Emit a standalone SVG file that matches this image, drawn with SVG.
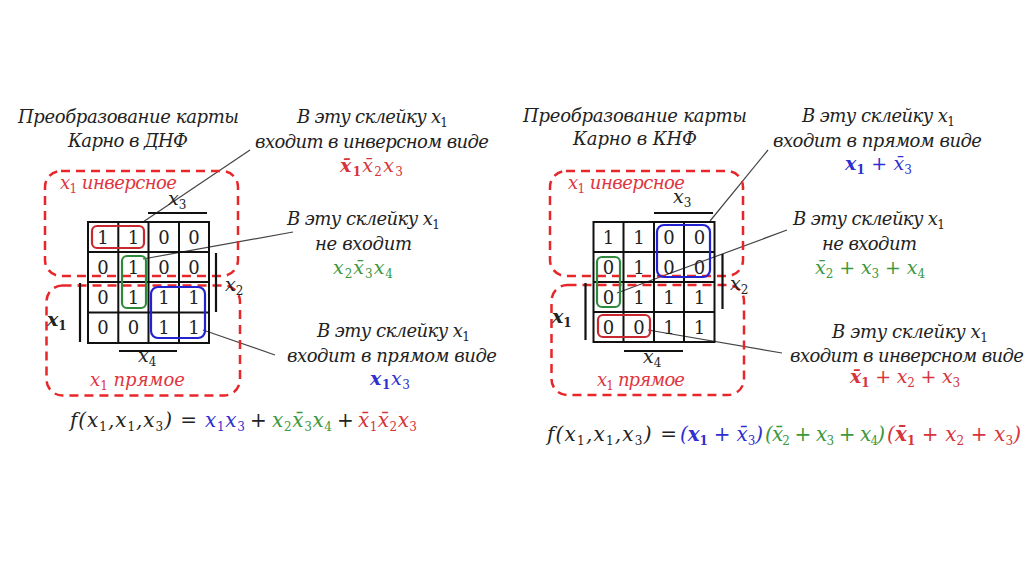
<svg xmlns="http://www.w3.org/2000/svg" width="1024" height="574" viewBox="0 0 1024 574">
<style>
.t{font-family:"DejaVu Serif","Liberation Serif",serif;font-style:italic;font-size:18px;fill:#222}
.m{font-family:"DejaVu Serif","Liberation Serif",serif;font-style:italic;font-size:19px;fill:#222}
.f{font-family:"DejaVu Serif","Liberation Serif",serif;font-style:italic;font-size:20px;fill:#222}
.s{font-size:12px;font-style:normal}
.b{font-weight:bold}
.num{font-family:"DejaVu Serif","Liberation Serif",serif;font-size:18px;fill:#222;text-anchor:middle}
.grid{stroke:#111;stroke-width:2;fill:none}
.bar{stroke:#111;stroke-width:2.2}
.dash{stroke:#e8262a;stroke-width:2.5;fill:none;stroke-dasharray:9 6}
.lead{stroke:#444;stroke-width:1.2}
.red{fill:#d6333a}
.blue{fill:#2f2fd0}
.green{fill:#3c983c}
.lbl{fill:#e03540}
.c{text-anchor:middle}
.br{stroke:#c8282e;stroke-width:2.2;fill:none}
.bg{stroke:#2e8b3e;stroke-width:2.2;fill:none}
.bb{stroke:#2222d0;stroke-width:2.2;fill:none}
</style>
<rect width="1024" height="574" fill="#fff"/>

<g id="connectors">
<line class="lead" x1="143" y1="222" x2="250" y2="150"/>
<line class="lead" x1="143" y1="259" x2="293" y2="232"/>
<line class="lead" x1="203" y1="330" x2="275" y2="355"/>
<line class="lead" x1="710" y1="221" x2="768" y2="150"/>
<line class="lead" x1="617" y1="293" x2="787" y2="230"/>
<line class="lead" x1="648" y1="330" x2="782" y2="353"/>
</g>

<g id="left-title">
<text class="t c" x="128.5" y="123" textLength="221" font-size="19">Преобразование карты</text>
<text class="t c" x="128" y="147" textLength="120" font-size="19">Карно в ДНФ</text>
</g>

<g id="left-map">
<rect class="dash" x="45" y="171" width="193" height="105" rx="16"/>
<rect class="dash" x="46.5" y="285.5" width="193.5" height="110" rx="16"/>
<text class="t lbl" x="60" y="189" textLength="117">x<tspan class="s" dy="4">1</tspan><tspan dy="-4"> инверсное</tspan></text>
<text class="t lbl" x="90" y="386" textLength="95">x<tspan class="s" dy="4">1</tspan><tspan dy="-4"> прямое</tspan></text>
<rect class="grid" x="88" y="222" width="121" height="121"/>
<path class="grid" d="M118.3 222V343M148.5 222V343M179 222V343M88 252H209M88 282H209M88 312.5H209"/>
<g class="num">
<text x="103" y="243.5">1</text><text x="133.5" y="243.5">1</text><text x="164" y="243.5">0</text><text x="194" y="243.5">0</text>
<text x="103" y="273.5">0</text><text x="133.5" y="273.5">1</text><text x="164" y="273.5">0</text><text x="194" y="273.5">0</text>
<text x="103" y="304">0</text><text x="133.5" y="304">1</text><text x="164" y="304">1</text><text x="194" y="304">1</text>
<text x="103" y="334">0</text><text x="133.5" y="334">0</text><text x="164" y="334">1</text><text x="194" y="334">1</text>
</g>
<rect class="br" x="92" y="226" width="52" height="22" rx="5"/>
<rect class="bg" x="122" y="256" width="24" height="52" rx="5"/>
<rect class="bb" x="151" y="287" width="54" height="51" rx="7"/>
<path class="bar" d="M148 213H207M216 253V312M80 283V342M119 351H177"/>
<text class="m" x="168" y="205">x<tspan class="s" dy="4">3</tspan></text>
<text class="m" x="225" y="291">x<tspan class="s" dy="4">2</tspan></text>
<text class="m b" x="47" y="326">x<tspan class="s" dy="4">1</tspan></text>
<text class="m" x="138" y="362">x<tspan class="s" dy="4">4</tspan></text>
</g>

<g id="left-note-1">
<text class="t c" x="372.5" y="123" textLength="151">В эту склейку x<tspan class="s" dy="4">1</tspan></text>
<text class="t c" x="372" y="148" textLength="234">входит в инверсном виде</text>
<text class="m c red" x="371.5" y="172" textLength="63"><tspan class="b">x&#772;</tspan><tspan class="s b" dy="4">1</tspan><tspan dy="-4">x&#772;</tspan><tspan class="s" dy="4">2</tspan><tspan dy="-4">x</tspan><tspan class="s" dy="4">3</tspan></text>
</g>
<g id="left-note-2">
<text class="t c" x="363.5" y="225" textLength="153">В эту склейку x<tspan class="s" dy="4">1</tspan></text>
<text class="t c" x="363.5" y="250" textLength="97">не входит</text>
<text class="m c green" x="363" y="274" textLength="60">x<tspan class="s" dy="4">2</tspan><tspan dy="-4">x&#772;</tspan><tspan class="s" dy="4">3</tspan><tspan dy="-4">x</tspan><tspan class="s" dy="4">4</tspan></text>
</g>
<g id="left-note-3">
<text class="t c" x="393.5" y="337" textLength="153">В эту склейку x<tspan class="s" dy="4">1</tspan></text>
<text class="t c" x="392" y="362" textLength="210">входит в прямом виде</text>
<text class="m c blue" x="390" y="385" textLength="40"><tspan class="b">x</tspan><tspan class="s b" dy="4">1</tspan><tspan dy="-4">x</tspan><tspan class="s" dy="4">3</tspan></text>
</g>

<g id="left-formula">
<text class="f" x="70" y="427" textLength="127">f(x<tspan class="s" dy="4">1</tspan><tspan dy="-4">,x</tspan><tspan class="s" dy="4">1</tspan><tspan dy="-4">,x</tspan><tspan class="s" dy="4">3</tspan><tspan dy="-4">) =</tspan></text>
<text class="f blue" x="205" y="427" textLength="40">x<tspan class="s" dy="4">1</tspan><tspan dy="-4">x</tspan><tspan class="s" dy="4">3</tspan></text>
<text class="f" x="250" y="427" textLength="13">+</text>
<text class="f green" x="272" y="427" textLength="60">x<tspan class="s" dy="4">2</tspan><tspan dy="-4">x&#772;</tspan><tspan class="s" dy="4">3</tspan><tspan dy="-4">x</tspan><tspan class="s" dy="4">4</tspan></text>
<text class="f" x="337" y="427" textLength="13">+</text>
<text class="f red" x="358" y="427" textLength="59">x&#772;<tspan class="s" dy="4">1</tspan><tspan dy="-4">x&#772;</tspan><tspan class="s" dy="4">2</tspan><tspan dy="-4">x</tspan><tspan class="s" dy="4">3</tspan></text>
</g>

<g id="right-title">
<text class="t c" x="635" y="122" textLength="224" font-size="19">Преобразование карты</text>
<text class="t c" x="635" y="145" textLength="124" font-size="19">Карно в КНФ</text>
</g>

<g id="right-map">
<rect class="dash" x="550" y="171" width="193" height="105" rx="16"/>
<rect class="dash" x="551.5" y="285" width="192.5" height="110" rx="16"/>
<text class="t lbl" x="568" y="189" textLength="117">x<tspan class="s" dy="4">1</tspan><tspan dy="-4"> инверсное</tspan></text>
<text class="t lbl" x="597" y="386" textLength="88">x<tspan class="s" dy="4">1</tspan><tspan dy="-4"> прямое</tspan></text>
<rect class="grid" x="593.5" y="222" width="121" height="120"/>
<path class="grid" d="M623.5 222V342M654 222V342M684 222V342M593.5 252H714.5M593.5 282H714.5M593.5 312H714.5"/>
<g class="num">
<text x="608.5" y="243.5">1</text><text x="639" y="243.5">1</text><text x="669" y="243.5">0</text><text x="699.5" y="243.5">0</text>
<text x="608.5" y="273.5">0</text><text x="639" y="273.5">1</text><text x="669" y="273.5">0</text><text x="699.5" y="273.5">0</text>
<text x="608.5" y="303.5">0</text><text x="639" y="303.5">1</text><text x="669" y="303.5">1</text><text x="699.5" y="303.5">1</text>
<text x="608.5" y="333.5">0</text><text x="639" y="333.5">0</text><text x="669" y="333.5">1</text><text x="699.5" y="333.5">1</text>
</g>
<rect class="bb" x="657" y="225" width="53" height="52" rx="7"/>
<rect class="bg" x="597" y="257" width="23" height="50" rx="5"/>
<rect class="br" x="598" y="315" width="52" height="22" rx="5"/>
<path class="bar" d="M654 213H713M722.5 254V309M585.5 283V340M624 351H683"/>
<text class="m" x="673" y="203">x<tspan class="s" dy="4">3</tspan></text>
<text class="m" x="730" y="290">x<tspan class="s" dy="4">2</tspan></text>
<text class="m b" x="552" y="323">x<tspan class="s" dy="4">1</tspan></text>
<text class="m" x="643" y="363">x<tspan class="s" dy="4">4</tspan></text>
</g>

<g id="right-note-1">
<text class="t c" x="878.5" y="122" textLength="153">В эту склейку x<tspan class="s" dy="4">1</tspan></text>
<text class="t c" x="877.5" y="147" textLength="209">входит в прямом виде</text>
<text class="m c blue" x="878.5" y="170" textLength="67"><tspan class="b">x</tspan><tspan class="s b" dy="4">1</tspan><tspan dy="-4"> + x&#772;</tspan><tspan class="s" dy="4">3</tspan></text>
</g>
<g id="right-note-2">
<text class="t c" x="869" y="225" textLength="152">В эту склейку x<tspan class="s" dy="4">1</tspan></text>
<text class="t c" x="869.5" y="250" textLength="95">не входит</text>
<text class="m c green" x="870" y="274" textLength="110">x&#772;<tspan class="s" dy="4">2</tspan><tspan dy="-4"> + x</tspan><tspan class="s" dy="4">3</tspan><tspan dy="-4"> + x</tspan><tspan class="s" dy="4">4</tspan></text>
</g>
<g id="right-note-3">
<text class="t c" x="910" y="338" textLength="156">В эту склейку x<tspan class="s" dy="4">1</tspan></text>
<text class="t" x="790" y="362" textLength="234">входит в инверсном виде</text>
<text class="m c red" x="905" y="383" textLength="110"><tspan class="b">x&#772;</tspan><tspan class="s b" dy="4">1</tspan><tspan dy="-4"> + x</tspan><tspan class="s" dy="4">2</tspan><tspan dy="-4"> + x</tspan><tspan class="s" dy="4">3</tspan></text>
</g>

<g id="right-formula">
<text class="f" x="547" y="441" textLength="130">f(x<tspan class="s" dy="4">1</tspan><tspan dy="-4">,x</tspan><tspan class="s" dy="4">1</tspan><tspan dy="-4">,x</tspan><tspan class="s" dy="4">3</tspan><tspan dy="-4">) =</tspan></text>
<text class="f blue" x="680" y="441" textLength="83">(<tspan class="b">x</tspan><tspan class="s b" dy="4">1</tspan><tspan dy="-4"> + x&#772;</tspan><tspan class="s" dy="4">3</tspan><tspan dy="-4">)</tspan></text>
<text class="f green" x="765" y="441" textLength="120">(x&#772;<tspan class="s" dy="4">2</tspan><tspan dy="-4"> + x</tspan><tspan class="s" dy="4">3</tspan><tspan dy="-4"> + x</tspan><tspan class="s" dy="4">4</tspan><tspan dy="-4">)</tspan></text>
<text class="f red" x="887" y="441" textLength="134">(<tspan class="b">x&#772;</tspan><tspan class="s b" dy="4">1</tspan><tspan dy="-4"> + x</tspan><tspan class="s" dy="4">2</tspan><tspan dy="-4"> + x</tspan><tspan class="s" dy="4">3</tspan><tspan dy="-4">)</tspan></text>
</g>
</svg>
